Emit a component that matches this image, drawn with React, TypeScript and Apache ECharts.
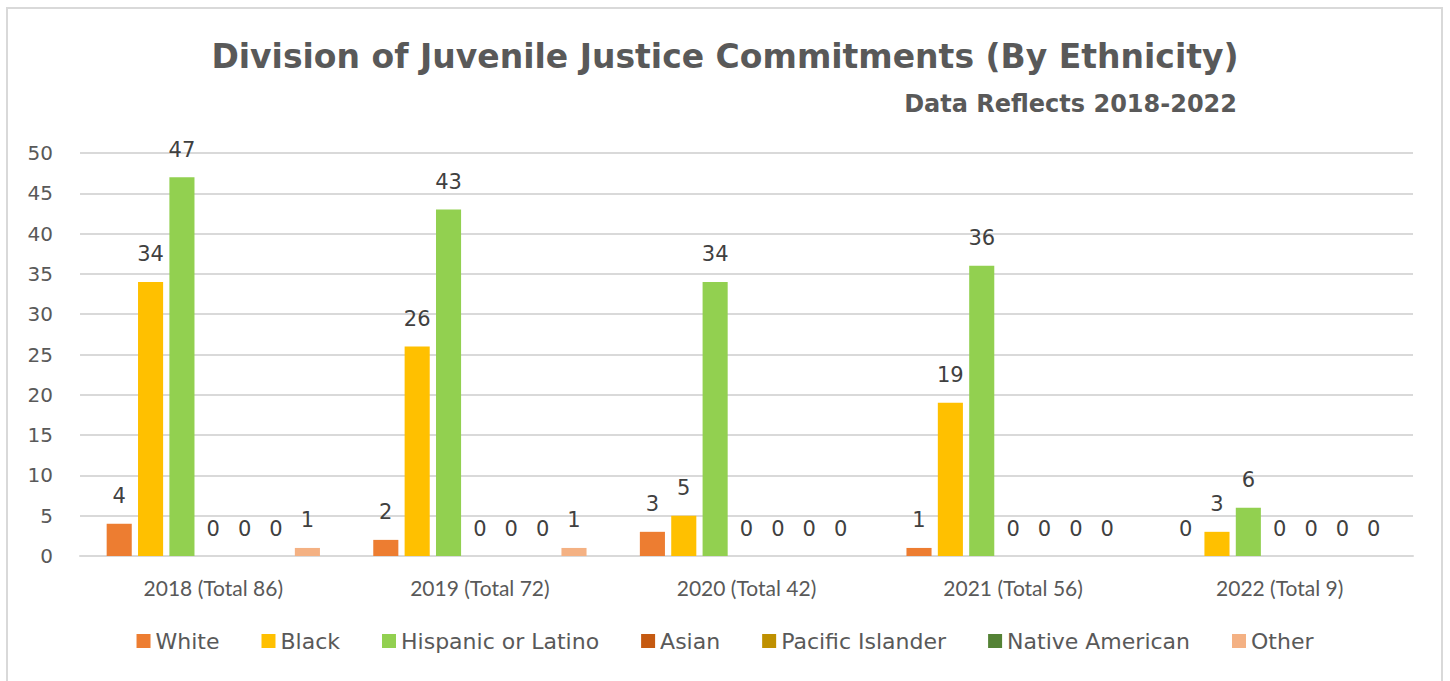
import React, { useEffect, useRef } from "react";
import * as echarts from "echarts";

const categories = ["2018 (Total 86)", "2019 (Total 72)", "2020 (Total 42)", "2021 (Total 56)", "2022 (Total 9)"];
const seriesNames = ["White", "Black", "Hispanic or Latino", "Asian", "Pacific Islander", "Native American", "Other"];
const white = [4, 2, 3, 1, 0];
const black = [34, 26, 5, 19, 3];
const hispanic = [47, 43, 34, 36, 6];
const asian = [0, 0, 0, 0, 0];
const pacific = [0, 0, 0, 0, 0];
const native = [0, 0, 0, 0, 0];
const other = [1, 1, 0, 0, 0];
const colors = ["#ED7D31", "#FFC000", "#92D050", "#C55A11", "#BF9000", "#548235", "#F4B183"];

const FONT = "'DejaVu Sans', sans-serif";

export default function App() {
  const ref = useRef<HTMLDivElement>(null);
  useEffect(() => {
    if (!ref.current) return;
    const chart = echarts.init(ref.current, null, { renderer: "svg" });
    const data = [white, black, hispanic, asian, pacific, native, other];
    chart.setOption({
      animation: false,
      color: colors,
      title: [
        {
          text: "Division of Juvenile Justice Commitments (By Ethnicity)",
          left: "center",
          top: 35,
          textStyle: { fontFamily: FONT, fontSize: 33, fontWeight: "bold", color: "#595959" },
        },
        {
          text: "Data Reflects 2018-2022",
          right: 208,
          top: 87,
          textStyle: { fontFamily: FONT, fontSize: 24, fontWeight: "bold", color: "#595959" },
        },
      ],
      legend: {
        bottom: 24,
        left: "center",
        itemWidth: 14,
        itemHeight: 14,
        itemGap: 42,
        icon: "rect",
        textStyle: { fontFamily: FONT, fontSize: 22, color: "#595959" },
        data: seriesNames,
      },
      grid: { left: 80, right: 37, top: 153, bottom: 125, containLabel: false },
      xAxis: {
        type: "category",
        data: categories,
        axisLine: { lineStyle: { color: "#d9d9d9", width: 2 } },
        axisTick: { show: false },
        axisLabel: { fontFamily: "Lato, sans-serif", fontSize: 21, color: "#595959", margin: 21 },
      },
      yAxis: {
        type: "value",
        min: 0,
        max: 50,
        interval: 5,
        axisLine: { show: false },
        axisTick: { show: false },
        splitLine: { lineStyle: { color: "#d9d9d9", width: 2 } },
        axisLabel: { fontFamily: FONT, fontSize: 20, color: "#595959", margin: 27 },
      },
      series: seriesNames.map((name, i) => ({
        name,
        type: "bar",
        data: data[i],
        barGap: "25%",
        barCategoryGap: "20%",
        label: {
          show: true,
          position: "top",
          distance: 17,
          fontFamily: FONT,
          fontSize: 21,
          color: "#404040",
        },
      })),
    });
    return () => chart.dispose();
  }, []);
  return (
    <div>
      <div
        style={{
          position: "absolute",
          left: 6,
          top: 7,
          width: 1437,
          height: 700,
          border: "2px solid #d9d9d9",
          boxSizing: "border-box",
          background: "#fff",
        }}
      />
      <div ref={ref} style={{ position: "absolute", left: 0, top: 0, width: 1450, height: 681 }} />
    </div>
  );
}
